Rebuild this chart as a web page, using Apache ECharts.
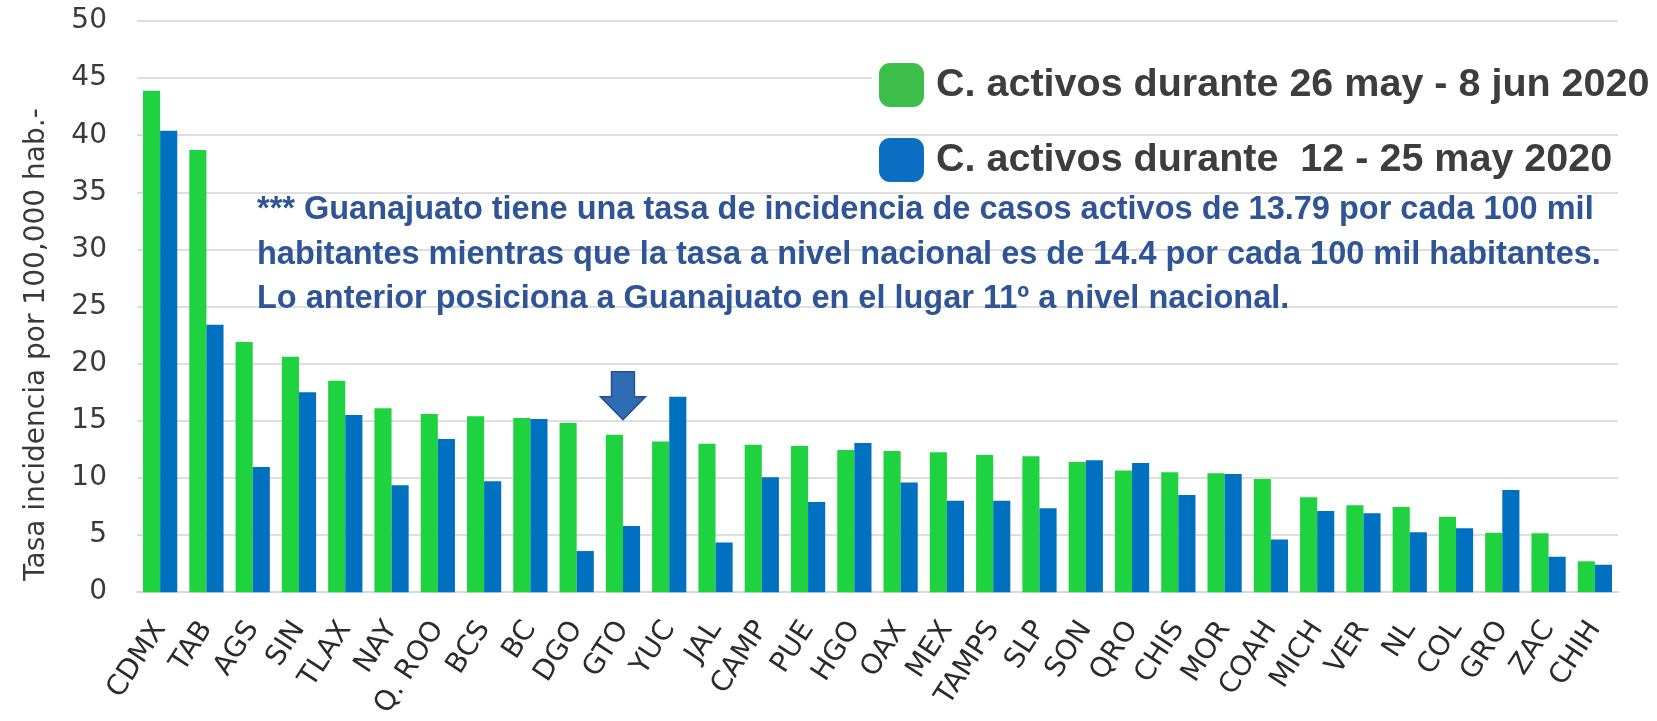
<!DOCTYPE html>
<html>
<head>
<meta charset="utf-8">
<script src="https://cdn.jsdelivr.net/npm/echarts@6/dist/echarts.min.js"></script>
<style>
html,body{margin:0;padding:0;background:#fff;}
#chart{width:1657px;height:721px;}
</style>
</head>
<body>
<div id="chart"></div>
<script>
const categories = ['CDMX','TAB','AGS','SIN','TLAX','NAY','Q. ROO','BCS','BC','DGO','GTO','YUC','JAL','CAMP','PUE','HGO','OAX','MEX','TAMPS','SLP','SON','QRO','CHIS','MOR','COAH','MICH','VER','NL','COL','GRO','ZAC','CHIH'];
const seriesNames = ['C. activos durante 26 may - 8 jun 2020', 'C. activos durante  12 - 25 may 2020'];
const activosRecientes = [43.9, 38.7, 21.9, 20.6, 18.5, 16.1, 15.6, 15.4, 15.25, 14.8, 13.79, 13.2, 13.0, 12.9, 12.8, 12.45, 12.35, 12.25, 12.0, 11.9, 11.4, 10.65, 10.5, 10.4, 9.9, 8.3, 7.6, 7.45, 6.6, 5.2, 5.15, 2.7];
const activosPrevios = [40.4, 23.4, 10.95, 17.5, 15.5, 9.35, 13.4, 9.7, 15.15, 3.6, 5.8, 17.1, 4.35, 10.05, 7.9, 13.05, 9.6, 8.0, 8.0, 7.35, 11.55, 11.3, 8.5, 10.35, 4.6, 7.1, 6.9, 5.25, 5.6, 8.95, 3.1, 2.4];
const yTicks = {min: 0, max: 50, interval: 5};
const yAxisTitle = 'Tasa incidencia por 100,000 hab.-';
const arrowMarker = [['GTO', 17.2]];
const noteLines = [
  '*** Guanajuato tiene una tasa de incidencia de casos activos de 13.79 por cada 100 mil',
  'habitantes mientras que la tasa a nivel nacional es de 14.4 por cada 100 mil habitantes.',
  'Lo anterior posiciona a Guanajuato en el lugar 11º a nivel nacional.'
];

const chart = echarts.init(document.getElementById('chart'), null, {renderer: 'canvas'});
const legendText = {fontSize: 39.5, fontWeight: 'bold', fontFamily: 'Liberation Sans', color: '#3d3d3d', padding: [0, 0, 0, 7]};
const option = {
  backgroundColor: '#ffffff',
  animation: false,
  grid: {left: 137, right: 39, top: 21, bottom: 126, containLabel: false},
  legend: [
    {
      data: [{name: seriesNames[0], itemStyle: {color: '#3DBE4B'}}],
      left: 872, top: 63, orient: 'vertical', padding: [0, 12, 0, 7],
      backgroundColor: '#ffffff',
      itemWidth: 45, itemHeight: 44, icon: 'roundRect',
      textStyle: legendText, selectedMode: false
    },
    {
      data: [{name: seriesNames[1], itemStyle: {color: '#0A6FC2'}}],
      left: 872, top: 138, orient: 'vertical', padding: [0, 12, 0, 7],
      itemWidth: 45, itemHeight: 44, icon: 'roundRect',
      textStyle: legendText, selectedMode: false
    }
  ],
  xAxis: {
    type: 'category',
    data: categories,
    axisLine: {show: true, lineStyle: {color: '#d9d9d9', width: 2}},
    axisTick: {show: false},
    axisLabel: {
      interval: 0, rotate: 57, margin: 32,
      fontSize: 28, fontFamily: 'DejaVu Sans', color: '#2b2b2b'
    }
  },
  yAxis: {
    type: 'value',
    min: yTicks.min, max: yTicks.max, interval: yTicks.interval,
    name: yAxisTitle,
    nameLocation: 'middle',
    nameGap: 86,
    nameTextStyle: {fontSize: 28, fontFamily: 'DejaVu Sans', color: '#3a3a3a', padding: [0, 76, 0, 0]},
    axisLine: {show: false},
    axisTick: {show: false},
    axisLabel: {margin: 30, fontSize: 28, fontFamily: 'DejaVu Sans', color: '#3a3a3a'},
    splitLine: {lineStyle: {color: '#dedede', width: 2}}
  },
  series: [
    {
      name: seriesNames[0], type: 'bar', data: activosRecientes,
      barGap: '0%', barCategoryGap: '26%',
      itemStyle: {color: '#1ED33F'}
    },
    {
      name: seriesNames[1], type: 'bar', data: activosPrevios,
      barGap: '0%', barCategoryGap: '26%',
      itemStyle: {color: '#0070C0'}
    },
    {
      name: 'flecha', type: 'scatter', data: arrowMarker, silent: true, z: 5,
      symbol: 'path://M11,0L34,0L34,25L45,25L22.5,48L0,25L11,25Z',
      symbolSize: [45, 48],
      itemStyle: {color: '#2E6DB4', borderColor: '#2A4F8F', borderWidth: 1.5, opacity: 1}
    }
  ],
  graphic: [
    {
      type: 'text', left: 257, top: 188, z: 10,
      style: {
        text: noteLines.join('\n'),
        fontSize: 32.5, fontWeight: 'bold', fontFamily: 'Liberation Sans',
        fill: '#2F5597', lineHeight: 44.5
      }
    }
  ]
};
chart.setOption(option);
</script>
</body>
</html>
